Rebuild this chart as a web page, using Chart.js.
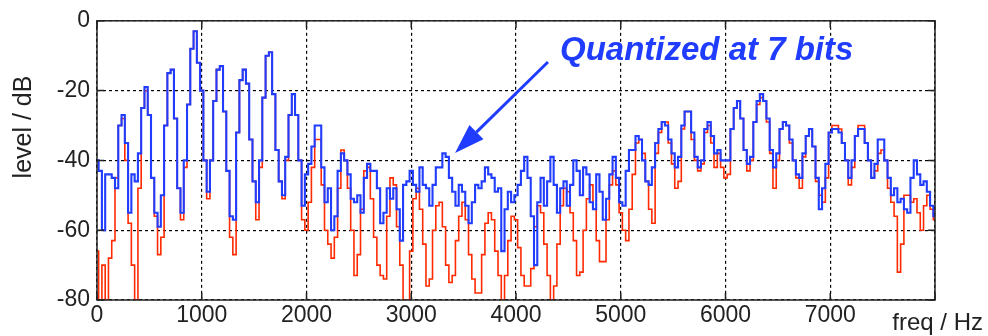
<!DOCTYPE html>
<html>
<head>
<meta charset="utf-8">
<script src="https://cdn.jsdelivr.net/npm/chart.js@4"></script>
<style>
  html, body { margin: 0; padding: 0; background: #fff; }
  canvas { display: block; }
</style>
</head>
<body>
<canvas width="988" height="336"></canvas>
<script>
// spectrum bins are 31.25 Hz apart (0 .. 8000 Hz)
let binHz = 31.25;

// original signal, level in dB per bin
let originalDb = [
  -66, -80, -70, -80, -68, -63, -45, -30,
  -28, -40, -58, -70, -80, -48, -25, -20,
  -27, -45, -56, -67, -62, -30, -15, -14,
  -28, -48, -57, -42, -24, -8, -3, -12,
  -20, -40, -51, -40, -23, -14, -13, -26,
  -43, -62, -67, -32, -17, -14, -18, -34,
  -46, -57, -42, -22, -10, -9, -21, -37,
  -46, -51, -40, -27, -21, -27, -40, -57,
  -60, -52, -42, -34, -34, -47, -60, -64,
  -68, -62, -48, -37, -40, -48, -60, -73,
  -67, -54, -43, -42, -51, -62, -70, -73,
  -74, -56, -45, -47, -59, -70, -80, -80,
  -66, -51, -48, -54, -64, -76, -74, -60,
  -53, -52, -59, -70, -75, -73, -63, -56,
  -52, -57, -67, -74, -78, -78, -67, -58,
  -55, -57, -66, -73, -80, -73, -63, -56,
  -57, -65, -73, -76, -76, -71, -59, -53,
  -55, -64, -73, -80, -76, -64, -53, -48,
  -49, -55, -63, -73, -72, -60, -51, -47,
  -54, -63, -69, -69, -57, -47, -43, -47,
  -55, -60, -63, -54, -44, -35, -34, -38,
  -46, -54, -58, -38, -32, -29, -29, -35,
  -41, -48, -46, -31, -26, -26, -34, -40,
  -43, -41, -32, -30, -35, -42, -38, -42,
  -45, -44, -31, -25, -23, -28, -37, -43,
  -40, -29, -24, -22, -23, -29, -38, -48,
  -40, -31, -29, -30, -35, -40, -45, -48,
  -39, -33, -31, -36, -46, -50, -52, -45,
  -32, -30, -30, -31, -35, -40, -47, -42,
  -33, -30, -30, -35, -40, -45, -43, -38,
  -37, -40, -48, -52, -56, -72, -64, -50,
  -50, -52, -51, -55, -60, -53, -50, -54,
  -57
];

// same signal quantized to 7 bits
let quantizedDb = [
  -40, -43, -60, -44, -44, -45, -48, -30,
  -27, -35, -55, -44, -46, -38, -25, -19,
  -27, -45, -55, -59, -50, -30, -15, -14,
  -28, -48, -55, -40, -24, -8, -3, -12,
  -20, -40, -49, -40, -23, -14, -13, -26,
  -43, -56, -57, -32, -17, -14, -18, -34,
  -46, -52, -40, -22, -10, -9, -21, -37,
  -46, -50, -39, -27, -21, -27, -40, -53,
  -44, -41, -36, -30, -30, -42, -52, -48,
  -60, -56, -43, -38, -40, -44, -51, -52,
  -50, -55, -45, -41, -43, -43, -48, -58,
  -55, -48, -51, -48, -54, -63, -47, -46,
  -43, -47, -49, -42, -47, -48, -53, -47,
  -42, -42, -38, -39, -45, -49, -53, -47,
  -49, -53, -58, -52, -47, -48, -46, -42,
  -44, -45, -49, -48, -66, -54, -49, -52,
  -50, -47, -43, -39, -45, -56, -70, -52,
  -45, -53, -46, -39, -47, -55, -48, -46,
  -53, -47, -40, -43, -50, -42, -44, -52,
  -54, -44, -49, -57, -51, -44, -39, -45,
  -52, -53, -43, -37, -37, -33, -34, -40,
  -46, -47, -42, -35, -31, -29, -30, -34,
  -38, -42, -39, -30, -26, -26, -32, -39,
  -42, -40, -31, -29, -33, -38, -37, -40,
  -40, -40, -31, -25, -23, -28, -37, -41,
  -39, -29, -23, -21, -23, -28, -37, -42,
  -38, -31, -29, -30, -34, -40, -44, -45,
  -38, -33, -31, -36, -45, -54, -48, -41,
  -32, -31, -31, -32, -35, -40, -45, -40,
  -33, -31, -31, -35, -40, -45, -41, -34,
  -34, -40, -45, -50, -48, -52, -51, -54,
  -55, -45, -40, -44, -47, -46, -49, -53,
  -56
];

let xTicks = [0, 1000, 2000, 3000, 4000, 5000, 6000, 7000, 8000];
let yTicks = [0, -20, -40, -60, -80];

const fontFamily = "'Liberation Sans', Arial, sans-serif";
const blue = '#1f3cff';
const red = '#ff2a00';

const toPoints = (values) => values.map((v, k) => ({ x: k * binHz, y: v }));

// box round the axes plus the little inward tick marks
const axesBox = {
  id: 'axesBox',
  afterDatasetsDraw(chart) {
    const { ctx, chartArea: a, scales } = chart;
    ctx.save();
    ctx.strokeStyle = '#222';
    ctx.lineWidth = 1.5;
    ctx.beginPath();
    xTicks.forEach((v) => {
      let px = scales.x.getPixelForValue(v);
      ctx.moveTo(px, a.bottom); ctx.lineTo(px, a.bottom - 7);
      ctx.moveTo(px, a.top); ctx.lineTo(px, a.top + 7);
    });
    yTicks.forEach((v) => {
      let py = scales.y.getPixelForValue(v);
      ctx.moveTo(a.left, py); ctx.lineTo(a.left + 7, py);
      ctx.moveTo(a.right, py); ctx.lineTo(a.right - 7, py);
    });
    ctx.stroke();
    ctx.strokeRect(a.left, a.top, a.right - a.left, a.bottom - a.top);
    ctx.restore();
  }
};

// axis captions and the arrow note
const notes = {
  id: 'notes',
  afterDraw(chart) {
    const { ctx, scales } = chart;
    const x = scales.x, y = scales.y;
    ctx.save();

    ctx.fillStyle = '#222';
    ctx.font = '25px ' + fontFamily;
    ctx.textAlign = 'center';
    ctx.textBaseline = 'middle';
    ctx.translate(24, 127);
    ctx.rotate(-Math.PI / 2);
    ctx.fillText('level / dB', 0, 0);
    ctx.setTransform(1, 0, 0, 1, 0, 0);

    ctx.font = '24px ' + fontFamily;
    ctx.textAlign = 'right';
    ctx.textBaseline = 'alphabetic';
    ctx.fillText('freq / Hz', 983, 330);

    // arrow pointing at the noise floor
    let x0 = x.getPixelForValue(4305), y0 = y.getPixelForValue(-11.8);
    let x1 = x.getPixelForValue(3418), y1 = y.getPixelForValue(-37.9);
    let ang = Math.atan2(y1 - y0, x1 - x0);
    let headLen = 30, headHalf = 10;
    let bx = x1 - headLen * Math.cos(ang), by = y1 - headLen * Math.sin(ang);
    ctx.strokeStyle = blue;
    ctx.fillStyle = blue;
    ctx.lineWidth = 3;
    ctx.beginPath();
    ctx.moveTo(x0, y0);
    ctx.lineTo(bx, by);
    ctx.stroke();
    ctx.beginPath();
    ctx.moveTo(x1, y1);
    ctx.lineTo(bx + headHalf * Math.sin(ang), by - headHalf * Math.cos(ang));
    ctx.lineTo(bx - headHalf * Math.sin(ang), by + headHalf * Math.cos(ang));
    ctx.closePath();
    ctx.fill();

    ctx.font = 'italic bold 33px ' + fontFamily;
    ctx.textAlign = 'left';
    ctx.textBaseline = 'alphabetic';
    ctx.fillText('Quantized at 7 bits', x.getPixelForValue(4420), y.getPixelForValue(-11.3));
    ctx.restore();
  }
};

let canvas = document.querySelector('canvas');
let context = canvas.getContext('2d');

// blue drawn a bit wider so it hides the red wherever the two agree
let data = {
  datasets: [
    {
      label: 'quantized',
      data: toPoints(quantizedDb),
      borderColor: blue,
      borderWidth: 2.1,
      pointRadius: 0,
      stepped: 'middle',
      order: 0,
    },
    {
      label: 'original',
      data: toPoints(originalDb),
      borderColor: red,
      borderWidth: 1.6,
      pointRadius: 0,
      stepped: 'middle',
      order: 1,
    },
  ],
};

let xScaleConfig = {
  type: 'linear',
  min: 0,
  max: 8000,
  afterBuildTicks: (axis) => { axis.ticks = xTicks.map((v) => ({ value: v })); },
  afterFit: (axis) => { axis.height = 36; },
  grid: { color: '#000', lineWidth: 1.2, drawTicks: false },
  border: { display: false, dash: [3, 3] },
  ticks: {
    padding: 2,
    color: '#222',
    font: { family: fontFamily, size: 23 },
    maxRotation: 0,
    callback: (v) => (v < 8000 ? v : ''),
  },
};

let yScaleConfig = {
  type: 'linear',
  min: -80,
  max: 0,
  afterBuildTicks: (axis) => { axis.ticks = yTicks.map((v) => ({ value: v })); },
  afterFit: (axis) => { axis.width = 97; },
  grid: { color: '#000', lineWidth: 1.2, drawTicks: false },
  border: { display: false, dash: [3, 3] },
  ticks: {
    padding: 7,
    color: '#222',
    font: { family: fontFamily, size: 23 },
  },
};

let config = {
  type: 'line',
  data: data,
  options: {
    responsive: false,
    animation: false,
    devicePixelRatio: 1,
    layout: { padding: { top: 20, right: 53, left: 0, bottom: 0 } },
    plugins: { legend: { display: false }, tooltip: { enabled: false } },
    scales: { x: xScaleConfig, y: yScaleConfig },
  },
  plugins: [axesBox, notes],
};

let chart = new Chart(context, config);
</script>
</body>
</html>
